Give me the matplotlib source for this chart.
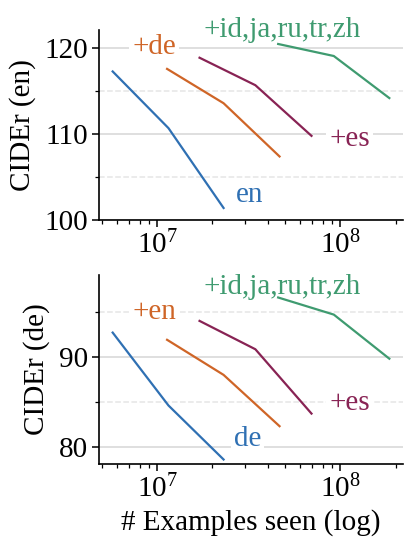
import matplotlib
matplotlib.use("Agg")
import matplotlib.pyplot as plt
from matplotlib.ticker import MultipleLocator

plt.rcParams['font.family'] = ['Liberation Serif', 'DejaVu Serif']
plt.rcParams['mathtext.fontset'] = 'custom'
plt.rcParams['mathtext.rm'] = 'Liberation Serif'
plt.rcParams['mathtext.default'] = 'regular'
plt.rcParams['font.size'] = 21

# examples seen per run (3 checkpoints each)
x_mono = [5.7e6, 1.15e7, 2.3e7]
x_two = [1.13e7, 2.3e7, 4.65e7]
x_three = [1.7e7, 3.43e7, 6.95e7]
x_all = [4.57e7, 9.2e7, 1.85e8]

# CIDEr on en
en_mono = [117.3, 110.7, 101.4]
en_de = [117.6, 113.6, 107.4]
en_es = [118.9, 115.7, 109.8]
en_all = [120.5, 119.1, 114.2]

# CIDEr on de
de_mono = [92.7, 84.6, 78.6]
de_en = [91.9, 88.0, 82.3]
de_es = [94.0, 90.85, 83.7]
de_all = [96.6, 94.7, 89.8]

colors = ['#2f70b3', '#cf6527', '#882354', '#3f9b70']
xs = [x_mono, x_two, x_three, x_all]

fig = plt.figure(figsize=(4.16, 5.5), dpi=100)
ax1 = fig.add_axes([0.238, 0.6, 0.731, 0.345])
ax2 = fig.add_axes([0.238, 0.1564, 0.731, 0.3436])


def style(ax, ylim):
    ax.set_xscale('log')
    ax.set_xlim(4.8e6, 2.2e8)
    ax.set_ylim(*ylim)
    ax.yaxis.set_major_locator(MultipleLocator(10))
    ax.yaxis.set_minor_locator(MultipleLocator(5))
    ax.grid(True, which='major', axis='y', color='#dcdcdc', lw=1.3, zorder=0)
    ax.grid(True, which='minor', axis='y', color='#e6e6e6', lw=1.1, ls='--', zorder=0)
    ax.spines['top'].set_visible(False)
    ax.spines['right'].set_visible(False)
    ax.spines['left'].set_linewidth(1.2)
    ax.spines['bottom'].set_linewidth(1.2)
    ax.tick_params(which='major', length=5, width=1.1, pad=3)
    ax.tick_params(which='minor', length=3, width=0.9)
    ax.tick_params(axis='y', which='minor', labelleft=False)


box = dict(facecolor='white', edgecolor='none', pad=2)

# top panel
for xv, yv, c in zip(xs, [en_mono, en_de, en_es, en_all], colors):
    ax1.plot(xv, yv, color=c, lw=1.6, zorder=3)
style(ax1, (100, 122.1))
ax1.set_ylabel('CIDEr (en)', labelpad=6)
ax1.text(3.2e7, 102.9, 'en', color=colors[0], ha='center', va='center', bbox=box, zorder=2)
ax1.text(9.6e6, 120.2, '+de', color=colors[1], ha='center', va='center', bbox=box, zorder=2)
ax1.text(1.12e8, 109.4, '+es', color=colors[2], ha='center', va='center', bbox=box, zorder=2)
ax1.text(4.8e7, 122.1, '+id,ja,ru,tr,zh', color=colors[3], ha='center', va='center',
         clip_on=False, zorder=2)

# bottom panel
for xv, yv, c in zip(xs, [de_mono, de_en, de_es, de_all], colors):
    ax2.plot(xv, yv, color=c, lw=1.6, zorder=3)
style(ax2, (78.1, 99.1))
ax2.set_ylabel('CIDEr (de)', labelpad=6)
ax2.set_xlabel('# Examples seen (log)')
ax2.text(3.1e7, 80.9, 'de', color=colors[0], ha='center', va='center', bbox=box, zorder=2)
ax2.text(9.6e6, 95.0, '+en', color=colors[1], ha='center', va='center', bbox=box, zorder=2)
ax2.text(1.12e8, 84.9, '+es', color=colors[2], ha='center', va='center', bbox=box, zorder=2)
ax2.text(4.8e7, 97.8, '+id,ja,ru,tr,zh', color=colors[3], ha='center', va='center',
         bbox=box, zorder=2)

fig.savefig('out.png', dpi=100)
